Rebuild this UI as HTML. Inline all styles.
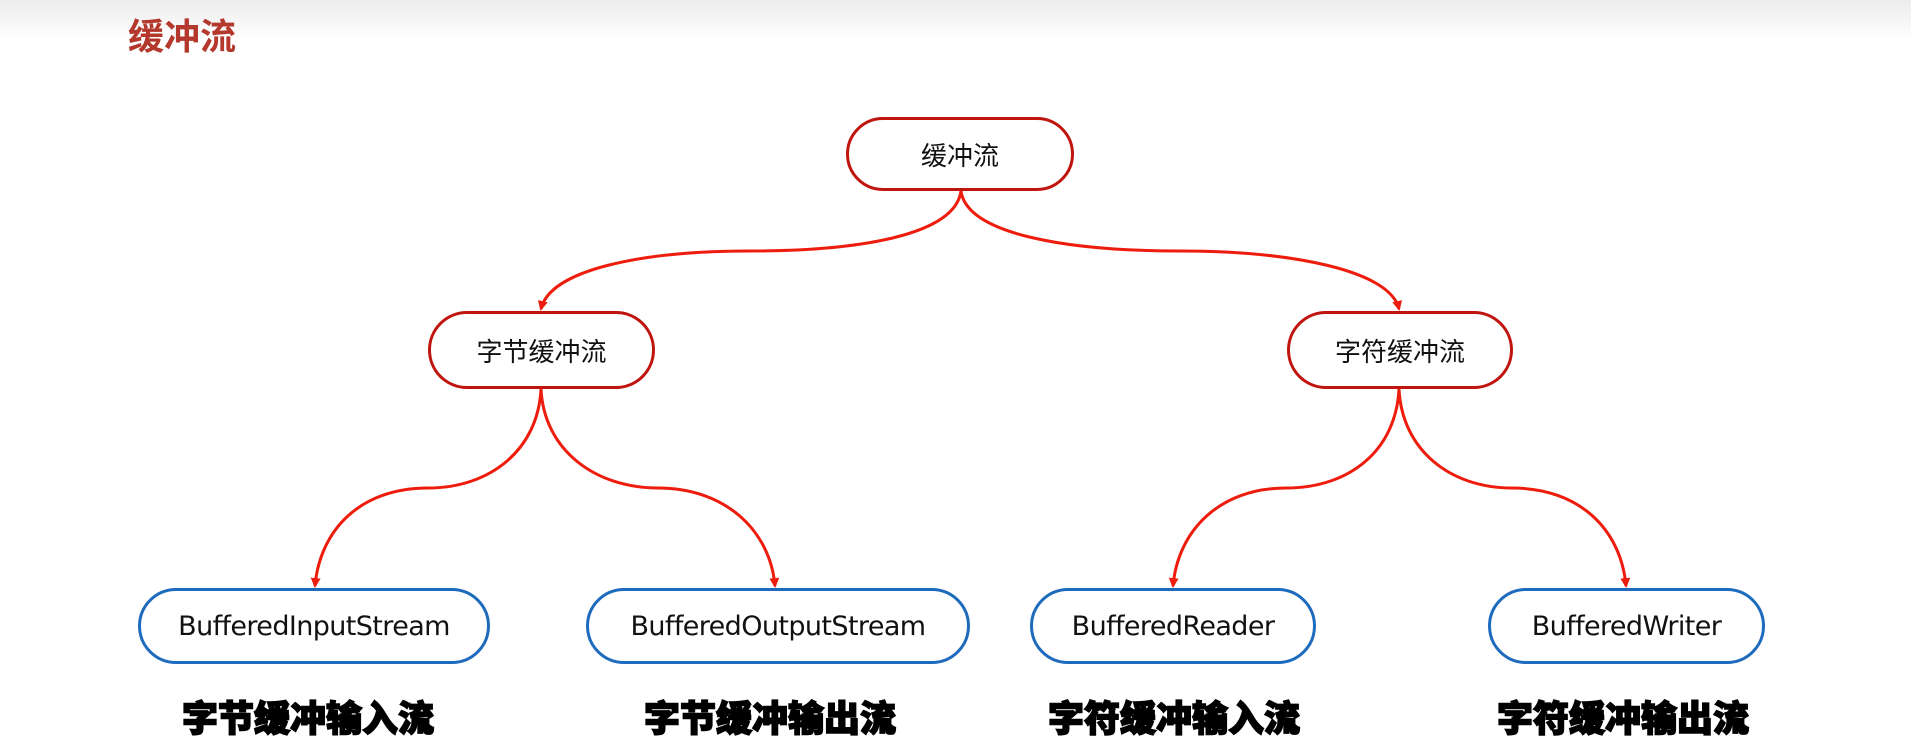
<!DOCTYPE html>
<html><head><meta charset="utf-8"><style>
body{margin:0;width:1911px;height:749px;overflow:hidden;background:#fff;font-family:"Liberation Sans","Noto Sans CJK SC",sans-serif;position:relative}
.top{position:absolute;left:0;top:0;width:1911px;height:40px;background:linear-gradient(#ececec,#fff)}
.title{position:absolute;left:128px;top:8px;font-size:36px;font-weight:bold;color:#b4382c}
.n{position:absolute;box-sizing:border-box;border-radius:40px;background:#fff;display:flex;align-items:center;justify-content:center;font-size:26px;color:#111;font-family:"DejaVu Sans","Noto Sans CJK SC",sans-serif}
.n.b{font-size:27px;letter-spacing:-0.6px}
.r{border:3.5px solid #c0140e}
.b{border:3.5px solid #1e6bbd}
.lab{position:absolute;top:690px;font-size:36px;font-weight:900;color:#000;-webkit-text-stroke:1.5px #000;font-family:"Noto Sans CJK SC",sans-serif;white-space:nowrap}
svg{position:absolute;left:0;top:0}
</style></head><body>
<div class="top"></div>
<div class="title">缓冲流</div>
<svg width="1911" height="749">
<defs><marker id="a" markerWidth="10" markerHeight="10" refX="8" refY="5" orient="auto" markerUnits="userSpaceOnUse"><path d="M0,0 L10,5 L0,10 z" fill="#ee1c0c"/></marker></defs>
<g fill="none" stroke="#ee1c0c" stroke-width="3" marker-end="url(#a)">
<path d="M961,191 C955,235 860,251 750,251 C640,251 550,270 541,309"/>
<path d="M961,191 C967,235 1070,251 1180,251 C1290,251 1390,270 1399,309"/>
<path d="M541,389 C538,450 490,488 428,488 C360,488 320,530 315,586"/>
<path d="M541,389 C544,450 595,488 658,488 C725,488 770,530 775,586"/>
<path d="M1399,389 C1396,450 1350,488 1286,488 C1220,488 1178,530 1173,586"/>
<path d="M1399,389 C1402,450 1450,488 1512,488 C1580,488 1621,530 1626,586"/>
</g></svg>
<div class="n r" style="left:846px;top:117px;width:228px;height:74px">缓冲流</div>
<div class="n r" style="left:428px;top:311px;width:227px;height:78px">字节缓冲流</div>
<div class="n r" style="left:1287px;top:311px;width:226px;height:78px">字符缓冲流</div>
<div class="n b" style="left:138px;top:588px;width:352px;height:76px">BufferedInputStream</div>
<div class="n b" style="left:586px;top:588px;width:384px;height:76px">BufferedOutputStream</div>
<div class="n b" style="left:1030px;top:588px;width:286px;height:76px">BufferedReader</div>
<div class="n b" style="left:1488px;top:588px;width:277px;height:76px">BufferedWriter</div>
<div class="lab" style="left:182px">字节缓冲输入流</div>
<div class="lab" style="left:644px">字节缓冲输出流</div>
<div class="lab" style="left:1048px">字符缓冲输入流</div>
<div class="lab" style="left:1497px">字符缓冲输出流</div>
</body></html>
